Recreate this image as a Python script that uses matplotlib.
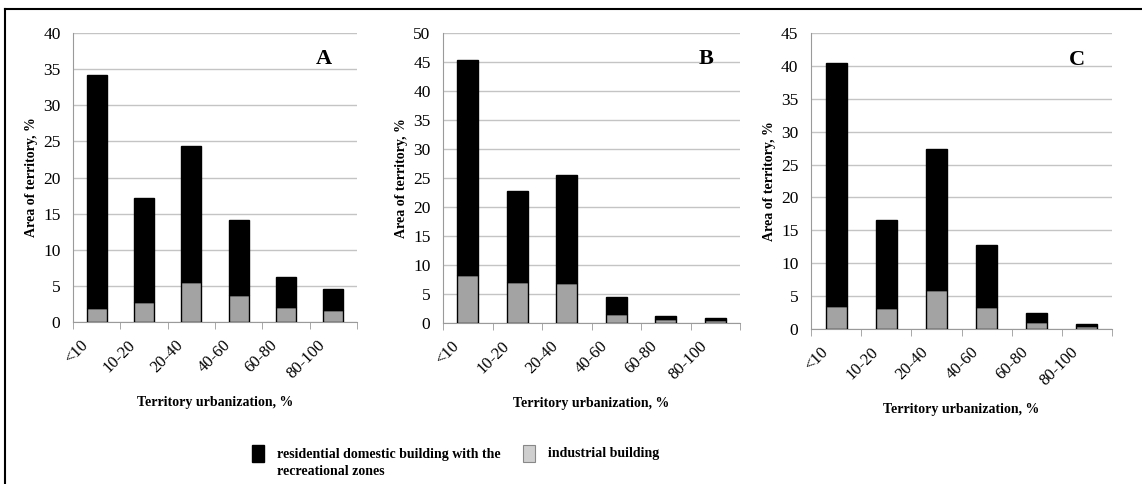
import matplotlib.pyplot as plt
from matplotlib.patches import Rectangle
from matplotlib.lines import Line2D
from matplotlib.transforms import ScaledTranslation

plt.rcParams["font.family"] = ["Liberation Serif", "DejaVu Serif"]

CATEGORIES = ["<10", "10-20", "20-40", "40-60", "60-80", "80-100"]

# industrial building (grey, bottom of stack)
INDUSTRIAL_A = [2.0, 2.7, 5.5, 3.8, 2.1, 1.6]
INDUSTRIAL_B = [8.3, 7.0, 6.9, 1.6, 0.7, 0.6]
INDUSTRIAL_C = [3.5, 3.2, 6.0, 3.4, 1.0, 0.4]

# residential domestic building with recreational zones (black, stacked on top)
RESIDENTIAL_A = [32.2, 14.4, 18.8, 10.3, 4.1, 2.9]
RESIDENTIAL_B = [37.1, 15.8, 18.7, 2.9, 0.5, 0.3]
RESIDENTIAL_C = [37.0, 13.3, 21.3, 9.4, 1.4, 0.3]

Y_MAX = [40, 50, 45]
PANEL_LETTERS = ["A", "B", "C"]

BAR_GREY = "#a3a3a3"
LEGEND_GREY = "#cfcfcf"
GRID_COLOR = "#c4c4c4"
AXIS_COLOR = "#9a9a9a"

W, H = 1142, 484


def px_rect(x0, x1, y_top, y_zero):
    return [x0 / W, 1 - y_zero / H, (x1 - x0) / W, (y_zero - y_top) / H]


def draw_panel(fig, ax, industrial, residential, ymax, letter):
    x = range(len(CATEGORIES))
    ax.bar(x, industrial, width=0.42, color=BAR_GREY, edgecolor="black", linewidth=1.0, zorder=3)
    ax.bar(x, residential, bottom=industrial, width=0.42, color="black", edgecolor="black",
           linewidth=1.0, zorder=3)
    ax.set_xlim(-0.5, len(CATEGORIES) - 0.5)
    ax.set_ylim(0, ymax)
    ax.set_yticks(range(0, ymax + 1, 5))
    ax.yaxis.grid(True, color=GRID_COLOR, linewidth=1.0)
    ax.set_axisbelow(True)
    for side in ["top", "right"]:
        ax.spines[side].set_visible(False)
    ax.spines["left"].set_color(AXIS_COLOR)
    ax.spines["bottom"].set_color(AXIS_COLOR)
    ax.tick_params(axis="y", length=0, labelsize=12.5, pad=9)
    ax.set_xticks(list(x))
    ax.set_xticklabels(CATEGORIES, rotation=45, ha="right", va="top", fontsize=12)
    ax.tick_params(axis="x", which="major", length=0, pad=11)
    shift = ScaledTranslation(-5 / 100, 0, fig.dpi_scale_trans)
    for lab in ax.get_xticklabels():
        lab.set_transform(lab.get_transform() + shift)
    ax.set_xticks([i - 0.5 for i in range(len(CATEGORIES) + 1)], minor=True)
    ax.tick_params(axis="x", which="minor", length=5, color=AXIS_COLOR, direction="out")
    ax.set_ylabel("Area of territory, %", fontsize=10, fontweight="bold", labelpad=4)
    ax.set_xlabel("Territory urbanization, %", fontsize=10, fontweight="bold", labelpad=10)
    ax.text(0.885, 0.91, letter, transform=ax.transAxes, fontsize=16, fontweight="bold",
            ha="center", va="center")


fig = plt.figure(figsize=(W / 100, H / 100), dpi=100)
fig.patch.set_facecolor("white")

rects = [px_rect(73, 357, 33, 322), px_rect(443, 740, 33, 323), px_rect(811, 1112, 33, 329)]
data = [(INDUSTRIAL_A, RESIDENTIAL_A), (INDUSTRIAL_B, RESIDENTIAL_B), (INDUSTRIAL_C, RESIDENTIAL_C)]
for rect, (ind, res), ymax, letter in zip(rects, data, Y_MAX, PANEL_LETTERS):
    ax = fig.add_axes(rect)
    draw_panel(fig, ax, ind, res, ymax, letter)

# frame lines on the left and top (the source image is cropped)
fig.add_artist(Line2D([5 / W, 5 / W], [0, 1 - 9 / H], color="black", linewidth=1.5,
                      transform=fig.transFigure))
fig.add_artist(Line2D([5 / W, 1], [1 - 9 / H, 1 - 9 / H], color="black", linewidth=1.5,
                      transform=fig.transFigure))

# legend
fig.add_artist(Rectangle((252 / W, 1 - 462 / H), 12 / W, 17 / H, facecolor="black",
                         edgecolor="black", transform=fig.transFigure))
fig.text(277 / W, 1 - 463 / H, "residential domestic building with the\nrecreational zones",
         fontsize=10, fontweight="bold", ha="left", va="center", linespacing=1.45)
fig.add_artist(Rectangle((523 / W, 1 - 462 / H), 12 / W, 17 / H, facecolor=LEGEND_GREY,
                         edgecolor="#888888", linewidth=0.8, transform=fig.transFigure))
fig.text(548 / W, 1 - 453 / H, "industrial building", fontsize=10, fontweight="bold",
         ha="left", va="center")

fig.savefig("out.png", dpi=100)
